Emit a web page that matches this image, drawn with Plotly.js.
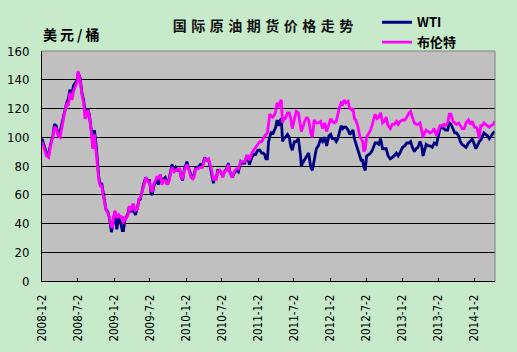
<!DOCTYPE html>
<html>
<head>
<meta charset="utf-8">
<script src="https://cdn.plot.ly/plotly-3.0.1.min.js"></script>
<style>
html,body{margin:0;padding:0;background:#c7ebca;}
#chart{width:517px;height:352px;}
.gtitle{letter-spacing:4.5px;}
.annotation-text{letter-spacing:3px;}
</style>
</head>
<body>
<div id="chart"></div>
<script>
const dates = [
'2008-01-02','2008-01-15','2008-01-25','2008-02-05','2008-02-14','2008-02-26','2008-03-05','2008-03-14','2008-03-24','2008-04-03','2008-04-15','2008-04-24','2008-05-06','2008-05-15','2008-05-22','2008-06-02','2008-06-10','2008-06-20','2008-06-30','2008-07-03','2008-07-14','2008-07-22','2008-07-31','2008-08-07','2008-08-14','2008-08-21','2008-08-29','2008-09-05','2008-09-12','2008-09-16','2008-09-24','2008-10-03','2008-10-10','2008-10-16','2008-10-24','2008-10-31','2008-11-07','2008-11-14','2008-11-21','2008-12-01','2008-12-10','2008-12-19','2008-12-24','2008-12-31',
'2009-01-06','2009-01-15','2009-01-26','2009-02-05','2009-02-12','2009-02-18','2009-02-26','2009-03-06','2009-03-13','2009-03-20','2009-03-30','2009-04-08','2009-04-20','2009-04-30','2009-05-07','2009-05-15','2009-05-22','2009-06-01','2009-06-11','2009-06-22','2009-06-30','2009-07-08','2009-07-14','2009-07-22','2009-07-31','2009-08-07','2009-08-14','2009-08-24','2009-09-01','2009-09-10','2009-09-18','2009-09-29','2009-10-08','2009-10-16','2009-10-22','2009-11-02','2009-11-10','2009-11-20','2009-12-01','2009-12-08','2009-12-15','2009-12-24',
'2010-01-06','2010-01-15','2010-01-26','2010-02-05','2010-02-12','2010-02-19','2010-03-02','2010-03-15','2010-03-25','2010-04-06','2010-04-15','2010-04-26','2010-05-05','2010-05-13','2010-05-20','2010-05-26','2010-06-04','2010-06-11','2010-06-21','2010-06-30','2010-07-07','2010-07-15','2010-07-26','2010-08-04','2010-08-12','2010-08-24','2010-09-02','2010-09-14','2010-09-24','2010-10-06','2010-10-14','2010-10-26','2010-11-05','2010-11-12','2010-11-19','2010-12-01','2010-12-10','2010-12-20','2010-12-31',
'2011-01-10','2011-01-20','2011-01-28','2011-02-04','2011-02-10','2011-02-18','2011-02-24','2011-03-02','2011-03-10','2011-03-17','2011-03-24','2011-04-01','2011-04-08','2011-04-15','2011-04-25','2011-04-29','2011-05-06','2011-05-12','2011-05-20','2011-05-31','2011-06-09','2011-06-16','2011-06-24','2011-07-05','2011-07-14','2011-07-25','2011-08-05','2011-08-09','2011-08-19','2011-08-26','2011-09-06','2011-09-15','2011-09-26','2011-10-04','2011-10-13','2011-10-24','2011-11-03','2011-11-15','2011-11-25','2011-12-06','2011-12-15','2011-12-27',
'2012-01-05','2012-01-13','2012-01-24','2012-02-02','2012-02-10','2012-02-17','2012-02-27','2012-03-06','2012-03-13','2012-03-22','2012-04-02','2012-04-11','2012-04-20','2012-04-27','2012-05-04','2012-05-11','2012-05-21','2012-05-31','2012-06-07','2012-06-15','2012-06-21','2012-06-28','2012-07-05','2012-07-16','2012-07-25','2012-08-03','2012-08-10','2012-08-17','2012-08-27','2012-09-05','2012-09-14','2012-09-24','2012-10-03','2012-10-12','2012-10-22','2012-11-02','2012-11-12','2012-11-21','2012-12-03','2012-12-12','2012-12-21',
'2013-01-03','2013-01-14','2013-01-25','2013-02-05','2013-02-13','2013-02-22','2013-03-04','2013-03-13','2013-03-22','2013-04-02','2013-04-10','2013-04-17','2013-04-25','2013-05-03','2013-05-13','2013-05-22','2013-06-03','2013-06-13','2013-06-24','2013-07-03','2013-07-12','2013-07-22','2013-08-01','2013-08-09','2013-08-20','2013-08-28','2013-09-06','2013-09-16','2013-09-25','2013-10-04','2013-10-15','2013-10-23','2013-11-01','2013-11-12','2013-11-21','2013-12-03','2013-12-12','2013-12-23',
'2014-01-03','2014-01-10','2014-01-17','2014-01-27','2014-02-04','2014-02-10','2014-02-20','2014-02-28','2014-03-10','2014-03-19','2014-03-28','2014-04-08','2014-04-16'
];
const wti = [
99,93,89,88,95,101,109,108,102,104,112,118,124,127,133,130,136,138,140,145,141,131,126,118,116,120,116,108,101,93,105,94,82,72,67,68,62,57,50,48,43,34,37,44,
48,36,44,40,35,35,43,45,47,52,48,50,46,51,56,57,62,68,72,70,70,61,60,66,69,71,67,74,68,71,72,67,71,78,81,77,79,77,77,72,70,78,
83,78,74,71,74,79,79,81,80,86,84,84,79,74,68,72,72,77,77,75,73,76,78,82,76,72,75,77,76,83,82,82,87,85,81,86,88,88,91,
91,89,89,88,85,85,97,101,104,102,105,107,112,108,112,113,97,99,100,102,100,94,91,97,97,99,87,80,83,85,87,89,79,77,85,92,94,99,97,100,94,101,
102,99,99,97,99,103,108,106,107,107,105,102,104,105,99,96,92,87,84,84,79,77,87,88,89,91,93,96,96,95,99,92,92,92,87,85,86,87,89,87,89,
93,94,96,96,97,93,90,92,93,97,94,87,92,95,94,94,93,96,95,101,106,107,106,105,105,110,109,106,103,103,101,97,95,94,93,96,97,99,
94,92,94,97,98,100,103,102,101,99,101,103,104
];
const brent = [
97,92,87,86,94,100,107,106,101,100,110,116,123,122,131,126,132,136,139,146,139,130,124,113,114,119,115,107,99,92,102,90,80,70,66,66,60,55,50,47,44,38,37,45,
49,44,46,44,45,40,44,44,46,52,49,54,49,50,57,58,61,66,72,69,69,63,62,68,70,73,71,74,67,70,70,67,70,76,79,76,77,78,78,72,71,77,
81,78,72,71,73,78,78,79,79,85,84,85,80,76,70,72,71,76,77,75,72,76,77,81,75,72,76,78,78,83,83,83,87,87,84,89,91,93,95,
97,97,99,101,102,103,111,116,115,114,115,118,124,121,125,126,110,113,113,117,117,113,106,112,118,117,108,104,108,111,114,112,103,100,112,110,110,111,106,110,104,109,
113,111,110,111,117,120,124,123,126,124,125,120,119,120,113,112,108,101,99,97,90,92,100,103,105,109,113,116,113,114,117,110,111,114,108,106,109,109,111,109,111,
112,112,114,117,118,114,110,109,109,110,105,100,103,105,104,103,104,106,101,105,108,108,109,108,110,116,116,111,110,109,110,108,106,106,110,112,109,111,
107,107,106,99,108,108,110,109,108,107,108,109,111
];
const tickDates = ['2008-01-02','2008-07-02','2009-01-02','2009-07-02','2010-01-02','2010-07-02','2011-01-02','2011-07-02','2012-01-02','2012-07-02','2013-01-02','2013-07-02','2014-01-02'];
const tickLabels = ['2008-1-2','2008-7-2','2009-1-2','2009-7-2','2010-1-2','2010-7-2','2011-1-2','2011-7-2','2012-1-2','2012-7-2','2013-1-2','2013-7-2','2014-1-2'];
const yTicks = [0,20,40,60,80,100,120,140,160];
const seriesNames = ['WTI','布伦特'];

const numFont = 'Liberation Sans Narrow, DejaVu Sans Condensed, sans-serif';
const cjkFont = 'Noto Sans CJK SC, sans-serif';

const traces = [
  {x: dates, y: wti, name: seriesNames[0], type: 'scatter', mode: 'lines',
   line: {color: '#000080', width: 2.8}},
  {x: dates, y: brent, name: seriesNames[1], type: 'scatter', mode: 'lines',
   line: {color: '#ff00ff', width: 2.8}}
];

const layout = {
  width: 517, height: 352,
  margin: {l: 42, r: 22, t: 51, b: 71, pad: 0, autoexpand: false},
  paper_bgcolor: '#c7ebca',
  plot_bgcolor: '#c0c0c0',
  showlegend: true,
  title: {text: '国际原油期货价格走势', font: {family: cjkFont, size: 14, color: '#111', weight: 'bold'},
          xref: 'container', yref: 'container', x: 0.513, xanchor: 'center', y: 0.925, yanchor: 'middle',
          automargin: false},
  legend: {x: 0.7395, y: 1.19, xanchor: 'left', yanchor: 'top', bgcolor: 'rgba(0,0,0,0)',
           font: {family: cjkFont, size: 13, color: '#000', weight: 'bold'}},
  xaxis: {type: 'date', range: ['2008-01-02', '2014-04-17'], tickmode: 'array',
          tickvals: tickDates, ticktext: tickLabels, tickangle: -90,
          ticks: 'inside', ticklen: 3, tickcolor: '#000', tickwidth: 1,
          showline: true, linecolor: '#000', linewidth: 1, showgrid: false, zeroline: false,
          ticklabelstandoff: 8, automargin: false,
          tickfont: {family: numFont, size: 11.5, color: '#000'}},
  yaxis: {range: [0, 160], tickmode: 'array', tickvals: yTicks, ticks: '',
          showline: true, linecolor: '#000', linewidth: 1, showgrid: true, gridcolor: '#000', gridwidth: 1,
          zeroline: false, ticklabelstandoff: 9, automargin: false,
          tickfont: {family: numFont, size: 13, color: '#000'}},
  annotations: [{text: '美元/桶', xref: 'paper', yref: 'paper', x: -0.002, y: 1.074,
                 xanchor: 'left', yanchor: 'middle', showarrow: false,
                 font: {family: cjkFont, size: 14, color: '#000', weight: 'bold'}}],
  shapes: [
    {type: 'line', xref: 'paper', yref: 'paper', x0: 0, x1: 1, y0: 1, y1: 1, layer: 'above', line: {color: '#808080', width: 1}},
    {type: 'line', xref: 'paper', yref: 'paper', x0: 1, x1: 1, y0: 0, y1: 1, layer: 'above', line: {color: '#808080', width: 1}}
  ]
};

Plotly.newPlot('chart', traces, layout, {displayModeBar: false, staticPlot: true});
</script>
</body>
</html>
